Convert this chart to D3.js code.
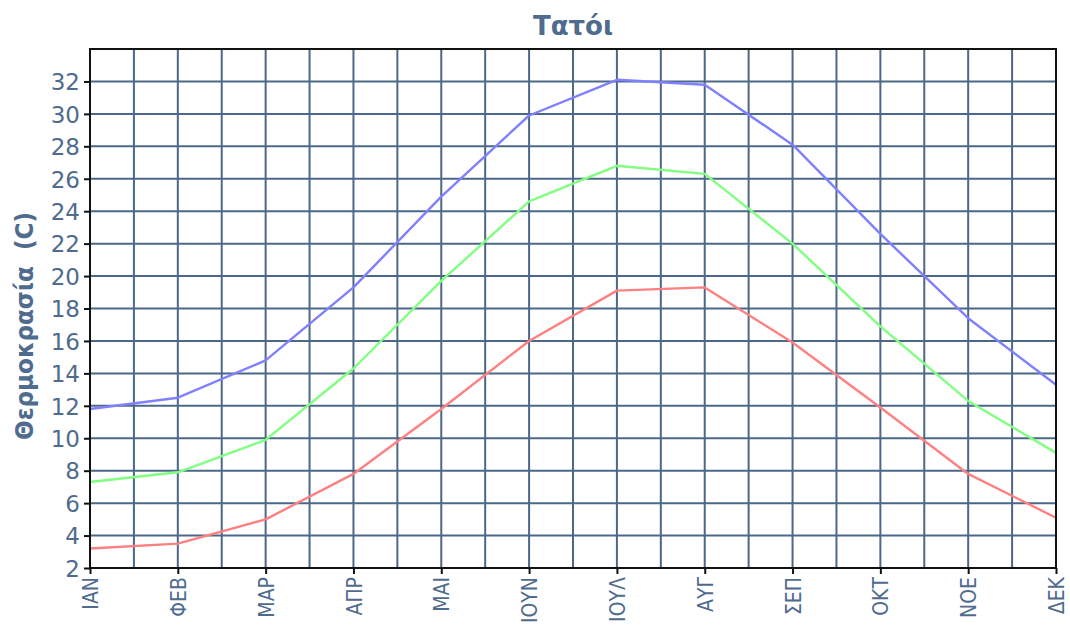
<!DOCTYPE html>
<html><head><meta charset="utf-8">
<script src="https://cdn.jsdelivr.net/npm/d3@7"></script>
<style>
html,body{margin:0;padding:0;background:#fff;}
svg{display:block;}
</style></head>
<body>
<svg id="chart" width="1070" height="625"></svg>
<script>
const months = ["ΙΑΝ","ΦΕΒ","ΜΑΡ","ΑΠΡ","ΜΑΙ","ΙΟΥΝ","ΙΟΥΛ","ΑΥΓ","ΣΕΠ","ΟΚΤ","ΝΟΕ","ΔΕΚ"];
const tMax  = [11.8, 12.5, 14.8, 19.3, 24.9, 29.9, 32.1, 31.8, 28.1, 22.6, 17.4, 13.3];
const tMean = [7.3, 7.9, 9.9, 14.3, 19.7, 24.6, 26.8, 26.3, 22.0, 16.9, 12.3, 9.1];
const tMin  = [3.2, 3.5, 5.0, 7.8, 11.8, 16.0, 19.1, 19.3, 15.9, 11.9, 7.8, 5.1];
const yTicks = [2,4,6,8,10,12,14,16,18,20,22,24,26,28,30,32];
const title = "Τατόι";
const yTitle = "Θερμοκρασία  (C)";

const series = [
  {values: tMax,  color: "#8080ff"},
  {values: tMean, color: "#80ff80"},
  {values: tMin,  color: "#ff8080"}
];

const L = 90, R = 1056, T = 49, B = 568;
const textColor = "#4f6b8e";
const gridColor = "#4b6889";

const svg = d3.select("#chart");
const x = d3.scaleLinear().domain([0, months.length - 1]).range([L, R]);
const y = d3.scaleLinear().domain([2, 34]).range([B, T]);

// grid
const g = svg.append("g");
const vGrid = d3.range(0, months.length - 0.5, 0.5);
g.selectAll("line.v").data(vGrid).join("line")
  .attr("x1", d => x(d)).attr("x2", d => x(d))
  .attr("y1", T).attr("y2", B)
  .attr("stroke", gridColor).attr("stroke-width", 2);
g.selectAll("line.h").data(d3.range(2, 34.1, 2)).join("line")
  .attr("x1", L).attr("x2", R)
  .attr("y1", d => y(d)).attr("y2", d => y(d))
  .attr("stroke", gridColor).attr("stroke-width", 2);

// lines
const line = d3.line().x((d, i) => x(i)).y(d => y(d));
series.forEach(s => {
  svg.append("path").datum(s.values)
    .attr("d", line).attr("fill", "none")
    .attr("stroke", s.color).attr("stroke-width", 2.4)
    .attr("stroke-linejoin", "round");
});

// frame
svg.append("rect").attr("x", L).attr("y", T).attr("width", R - L).attr("height", B - T)
  .attr("fill", "none").attr("stroke", "#111").attr("stroke-width", 2);

// y axis
const yAxis = d3.axisLeft(y).tickValues(yTicks).tickSize(6).tickPadding(4).tickFormat(d3.format("d"));
const ya = svg.append("g").attr("transform", `translate(${L},0)`).call(yAxis);
ya.select(".domain").remove();
ya.selectAll(".tick line").attr("stroke", "#111").attr("stroke-width", 2);
ya.selectAll(".tick text").attr("fill", textColor)
  .style("font-family", "'DejaVu Sans', sans-serif").style("font-size", "23px")
  .attr("dy", "0.36em");

// x axis
const xAxis = d3.axisBottom(x).tickValues(d3.range(months.length)).tickSize(6).tickFormat(i => months[i]);
const xa = svg.append("g").attr("transform", `translate(0,${B})`).call(xAxis);
xa.select(".domain").remove();
xa.selectAll(".tick line").attr("stroke", "#111").attr("stroke-width", 2);
xa.selectAll(".tick text").attr("fill", textColor)
  .style("font-family", "'Liberation Sans Narrow','DejaVu Sans Condensed','DejaVu Sans',sans-serif")
  .style("font-size", "21px")
  .attr("text-anchor", "end")
  .attr("transform", "rotate(-90)")
  .attr("x", -9).attr("y", 0).attr("dy", "0.36em");

// title
svg.append("text").attr("x", (L + R) / 2).attr("y", 35).attr("text-anchor", "middle")
  .attr("fill", textColor).style("font-family", "'DejaVu Sans', sans-serif")
  .style("font-weight", "bold").style("font-size", "26px").text(title);

// y title
svg.append("text").attr("transform", `translate(33,${326}) rotate(-90)`)
  .attr("text-anchor", "middle").attr("fill", textColor)
  .style("font-family", "'DejaVu Sans', sans-serif").style("font-weight", "bold")
  .style("font-size", "24px").style("white-space", "pre")
  .attr("textLength", 228).attr("lengthAdjust", "spacingAndGlyphs")
  .text(yTitle);
</script>
</body></html>
